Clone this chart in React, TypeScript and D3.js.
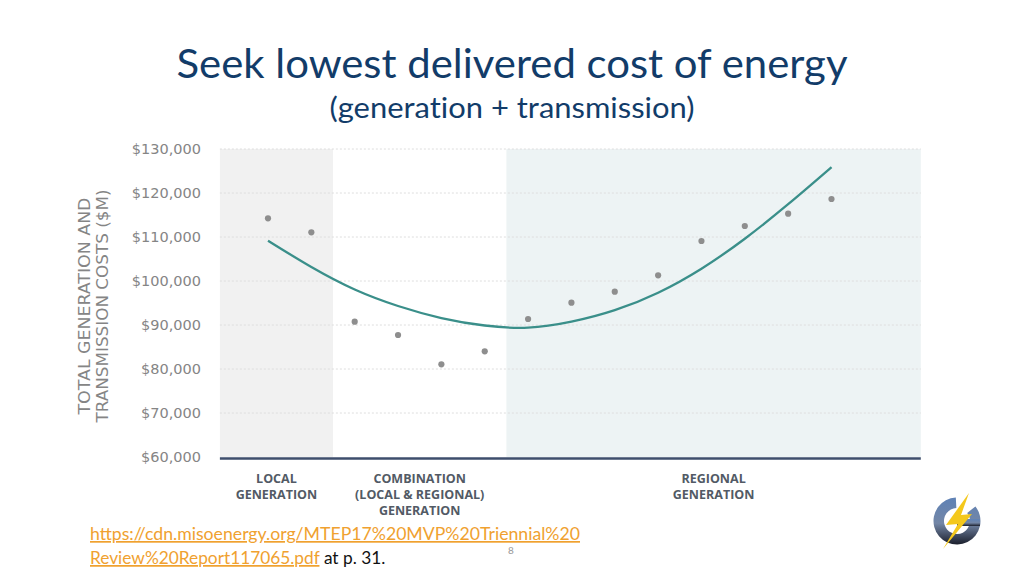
import React from "react";
import * as d3 from "d3";

// ---- data ----
const pointIndex = [0, 1, 2, 3, 4, 5, 6, 7, 8, 9, 10, 11, 12, 13];
const scenarioCosts = [114250, 111070, 90750, 87730, 81070, 84020, 91360, 95070, 97570, 101300, 109090, 112500, 115300, 118640];
const trendCosts = [109160, 103180, 98070, 94320, 91590, 89890, 89390, 90750, 93360, 97340, 102800, 109610, 117450, 125860];
const yTicks = [60000, 70000, 80000, 90000, 100000, 110000, 120000, 130000];
const regionNames = ["local", "combination", "regional"];
const regionStart = [-1.11, 1.5, 5.5];
const regionEnd = [1.5, 5.5, 15.06];
const regionLabels = [["LOCAL", "GENERATION"], ["COMBINATION", "(LOCAL & REGIONAL)", "GENERATION"], ["REGIONAL", "GENERATION"]];
const yTitleLines = ["TOTAL GENERATION AND", "TRANSMISSION COSTS ($M)"];
const titleText = "Seek lowest delivered cost of energy";
const subtitleText = "(generation + transmission)";
const sourceLine1 = "https://cdn.misoenergy.org/MTEP17%20MVP%20Triennial%20";
const sourceLine2 = "Review%20Report117065.pdf";
const sourceTail = " at p. 31.";
const pageNumber = "8";

const regionFill: Record<string, string> = { local: "#f1f1f1", combination: "#ffffff", regional: "#edf3f4" };

export default function App() {
  const W = 1024, H = 576;
  const x = d3.scaleLinear().domain([0, 13]).range([268, 831.5]);
  const y = d3.scaleLinear().domain([60000, 130000]).range([457, 149]);
  const plotLeft = x(regionStart[0]);
  const plotRight = x(regionEnd[2]);
  const line = d3
    .line<number>()
    .x((_, i) => x(pointIndex[i]))
    .y((d) => y(d))
    .curve(d3.curveNatural);

  const fmt = (v: number) => "$" + d3.format(",")(v);

  const sans = "'DejaVu Sans', sans-serif";
  const calib = "Lato, 'Open Sans', sans-serif";
  const noLig = { fontVariantLigatures: "none" } as React.CSSProperties;

  const ring = d3.arc()({ innerRadius: 13, outerRadius: 23.5, startAngle: 0.9, endAngle: 2 * Math.PI - 0.05 }) || "";

  return (
    <svg width={W} height={H} style={{ position: "absolute", left: 0, top: 0, background: "#fff" }}>
      <rect x={0} y={0} width={W} height={H} fill="#fff" />
      {/* Title */}
      <text x={512} y={78} textAnchor="middle" fontFamily={calib} fontSize={41} fill="#123c69" style={noLig}
        textLength={671} lengthAdjust="spacingAndGlyphs">{titleText}</text>
      <text x={512} y={118} textAnchor="middle" fontFamily={calib} fontSize={29} fill="#123c69" style={noLig}
        textLength={365} lengthAdjust="spacingAndGlyphs">{subtitleText}</text>

      {/* regions */}
      {regionNames.map((r, i) => (
        <rect key={r} x={x(regionStart[i])} y={y(130000)} width={x(regionEnd[i]) - x(regionStart[i])}
          height={y(60000) - y(130000)} fill={regionFill[r]} />
      ))}

      {/* grid */}
      {yTicks.map((t) => (
        <g key={t}>
          {t > 60000 && (
            <line x1={plotLeft} x2={plotRight} y1={y(t)} y2={y(t)} stroke="#dedede" strokeWidth={1}
              strokeDasharray="2,2" />
          )}
          <text x={201} y={y(t)} dy="0.35em" textAnchor="end" fontFamily={sans} fontSize={14.5}
            fill="#858585">{fmt(t)}</text>
        </g>
      ))}

      {/* y title */}
      {yTitleLines.map((l, i) => (
        <text key={l} transform={`translate(${[90, 108][i]},306) rotate(-90)`} textAnchor="middle"
          fontFamily={sans} fontSize={16} fill="#858585" textLength={[217, 233][i]}
          lengthAdjust="spacingAndGlyphs">{l}</text>
      ))}

      {/* trend */}
      <path d={line(trendCosts) || ""} fill="none" stroke="#3a8f8a" strokeWidth={2.3} />

      {/* points */}
      {scenarioCosts.map((v, i) => (
        <circle key={i} cx={x(pointIndex[i])} cy={y(v)} r={3.1} fill="#8e8e8e" />
      ))}

      {/* axis */}
      <line x1={plotLeft} x2={plotRight} y1={458.5} y2={458.5} stroke="#3e4e6c" strokeWidth={2.5} />

      {/* category labels */}
      {regionLabels.map((lines, i) => (
        <text key={i} x={(x(regionStart[i]) + x(regionEnd[i])) / 2} y={483} textAnchor="middle"
          fontFamily="'Open Sans', sans-serif" fontWeight={700} fontSize={12.5} fill="#525a65">
          {lines.map((l, j) => (
            <tspan key={j} x={(x(regionStart[i]) + x(regionEnd[i])) / 2} dy={j === 0 ? 0 : 16}>{l}</tspan>
          ))}
        </text>
      ))}

      {/* source */}
      <text x={90} y={540} fontFamily={calib} fontSize={17} fill="#f0a12f" textDecoration="underline"
        textLength={490} lengthAdjust="spacingAndGlyphs">{sourceLine1}</text>
      <text x={90} y={564} fontFamily={calib} fontSize={17.3}>
        <tspan fill="#f0a12f" textDecoration="underline">{sourceLine2}</tspan>
        <tspan fill="#111">{sourceTail}</tspan>
      </text>
      <text x={511} y={554} textAnchor="middle" fontFamily={calib} fontSize={10} fill="#999">{pageNumber}</text>

      {/* logo */}
      <g>
        <defs>
          <linearGradient id="lg" x1="0" y1="0" x2="0" y2="1">
            <stop offset="0" stopColor="#5f82b6" />
            <stop offset="0.55" stopColor="#7386a6" />
            <stop offset="1" stopColor="#1b1f2c" />
          </linearGradient>
        </defs>
        <path d={ring} transform="translate(957,521)" fill="url(#lg)" />
        <rect x={957} y={519} width={23} height={7} fill="url(#lg)" />
        <polygon points="969,493 946,525 958,524 943,549 972,514 961,515" fill="#f4c81c" />
      </g>
    </svg>
  );
}
